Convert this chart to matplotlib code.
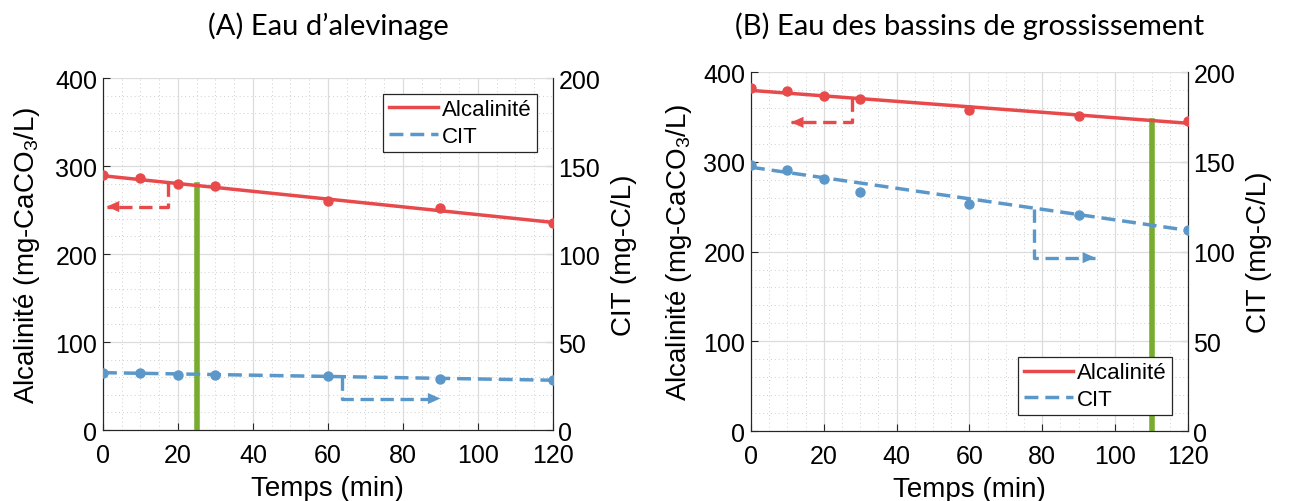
import matplotlib

matplotlib.use("Agg")
import matplotlib.pyplot as plt
from matplotlib.ticker import MultipleLocator

plt.rcParams["font.family"] = ["Liberation Sans Narrow", "Liberation Sans", "DejaVu Sans"]
plt.rcParams["mathtext.fontset"] = "custom"
plt.rcParams["mathtext.rm"] = "Liberation Sans"
plt.rcParams["mathtext.it"] = "Liberation Sans"

RED = "#E84A4C"
BLUE = "#5B98C9"
GREEN = "#77AC30"
DASH = (0, (4, 2))

# sampling times (min)
t_pts = [0, 10, 20, 30, 60, 90, 120]
t_fit = [0, 120]

# (A) Eau d'alevinage
alk_a = [290, 286, 280, 277, 260, 252, 235]
alk_fit_a = [289, 236]
cit_a = [32.6, 32.3, 31.5, 31.5, 30.6, 29.2, 28.3]
cit_fit_a = [32.6, 28.3]
green_a = (25, 279)
alk_arrow_a = ([17.4, 17.4, 1.0], [281, 254, 254])
cit_arrow_a = ([63.7, 63.7, 90.0], [30.2, 17.9, 17.9])

# (B) Eau des bassins de grossissement
alk_b = [382, 378.5, 373, 369.5, 358, 350.6, 346]
alk_fit_b = [379.6, 343]
cit_b = [148.4, 145.6, 140.6, 133.2, 126.3, 120.5, 112.2]
cit_fit_b = [147, 111.8]
green_b = (110, 346)
alk_arrow_b = ([27.8, 27.8, 11.0], [371, 344, 344])
cit_arrow_b = ([77.8, 77.8, 94.5], [123.5, 96.6, 96.6])

panels = [
    ("(A) Eau d\u2019alevinage", [0.0799, 0.1414, 0.349, 0.701], alk_a, alk_fit_a, cit_a, cit_fit_a,
     green_a, alk_arrow_a, cit_arrow_a, "upper right", 10),
    ("(B) Eau des bassins de grossissement", [0.5826, 0.1394, 0.339, 0.715], alk_b, alk_fit_b, cit_b,
     cit_fit_b, green_b, alk_arrow_b, cit_arrow_b, "lower right", 7),
]

fig = plt.figure(figsize=(12.89, 5.02), dpi=100)

for (title, rect, alk, alk_fit, cit, cit_fit, green, a_arr, c_arr, loc, ypad) in panels:
    ax = fig.add_axes(rect)
    ax2 = ax.twinx()
    ax.set_zorder(ax2.get_zorder() + 1)
    ax.patch.set_visible(False)

    ax.set_xlim(0, 120)
    ax.set_ylim(0, 400)
    ax2.set_ylim(0, 200)
    ax.xaxis.set_major_locator(MultipleLocator(20))
    ax.xaxis.set_minor_locator(MultipleLocator(5))
    ax.yaxis.set_major_locator(MultipleLocator(100))
    ax.yaxis.set_minor_locator(MultipleLocator(20))
    ax2.yaxis.set_major_locator(MultipleLocator(50))

    ax.grid(True, which="major", color="#dcdcdc", lw=0.9)
    ax.grid(True, which="minor", color="#cfcfcf", lw=0.7, ls=(0, (1, 3)))
    ax.set_axisbelow(True)

    for a in (ax, ax2):
        a.spines["top"].set_visible(False)
        a.tick_params(direction="in", labelsize=18, length=5, width=0.8, colors="#262626",
                      labelcolor="black")
        a.tick_params(which="minor", length=0)
        for s in a.spines.values():
            s.set_color("#262626")
    ax.tick_params(axis="x", pad=9)
    ax.tick_params(axis="y", pad=4)
    ax2.tick_params(axis="y", pad=4)

    # green marker of the time point
    ax.plot([green[0], green[0]], [0, green[1]], color=GREEN, lw=4, zorder=2)

    # alcalinité (left axis)
    ax.plot(t_fit, alk_fit, color=RED, lw=2.5, label="Alcalinit\u00e9", zorder=3)
    ax.plot(t_pts, alk, "o", color=RED, ms=6.5, zorder=3)
    ax.plot(a_arr[0], a_arr[1], color=RED, lw=2.4, ls=DASH, zorder=3)
    ax.annotate("", xy=(a_arr[0][2], a_arr[1][2]), xytext=(a_arr[0][2] + 0.1, a_arr[1][2]),
                arrowprops=dict(arrowstyle="-|>,head_length=0.9,head_width=0.4", color=RED, lw=0))

    # CIT (right axis, 0-200) drawn on the left axes scaled x2 so it stays in front
    ax.plot(t_fit, [v * 2 for v in cit_fit], color=BLUE, lw=2.5, ls=DASH, label="CIT", zorder=3)
    ax.plot(t_pts, [v * 2 for v in cit], "o", color=BLUE, ms=6.5, zorder=3)
    ax.plot(c_arr[0], [v * 2 for v in c_arr[1]], color=BLUE, lw=2.4, ls=DASH, zorder=3)
    ax.annotate("", xy=(c_arr[0][2], c_arr[1][2] * 2), xytext=(c_arr[0][2] - 0.1, c_arr[1][2] * 2),
                arrowprops=dict(arrowstyle="-|>,head_length=0.9,head_width=0.4", color=BLUE, lw=0))

    ax.set_xlabel("Temps (min)", fontsize=20, labelpad=6)
    ax.set_ylabel("Alcalinit\u00e9 (mg-CaCO$_3$/L)", fontsize=20, labelpad=ypad)
    ax2.set_ylabel("CIT (mg-C/L)", fontsize=20, labelpad=8)

    leg = ax.legend(loc=loc, fontsize=16, fancybox=False, framealpha=1, edgecolor="#262626",
                    handlelength=2.2, handletextpad=0.2, borderpad=0.25, labelspacing=0.25,
                    borderaxespad=0.7)
    leg.get_frame().set_linewidth(0.9)

    fig.text(rect[0] + rect[2] / 2, 0.948, title, ha="center", va="center", fontsize=21,
             family=["Lato", "DejaVu Sans"])

fig.savefig("out.png", dpi=100)
